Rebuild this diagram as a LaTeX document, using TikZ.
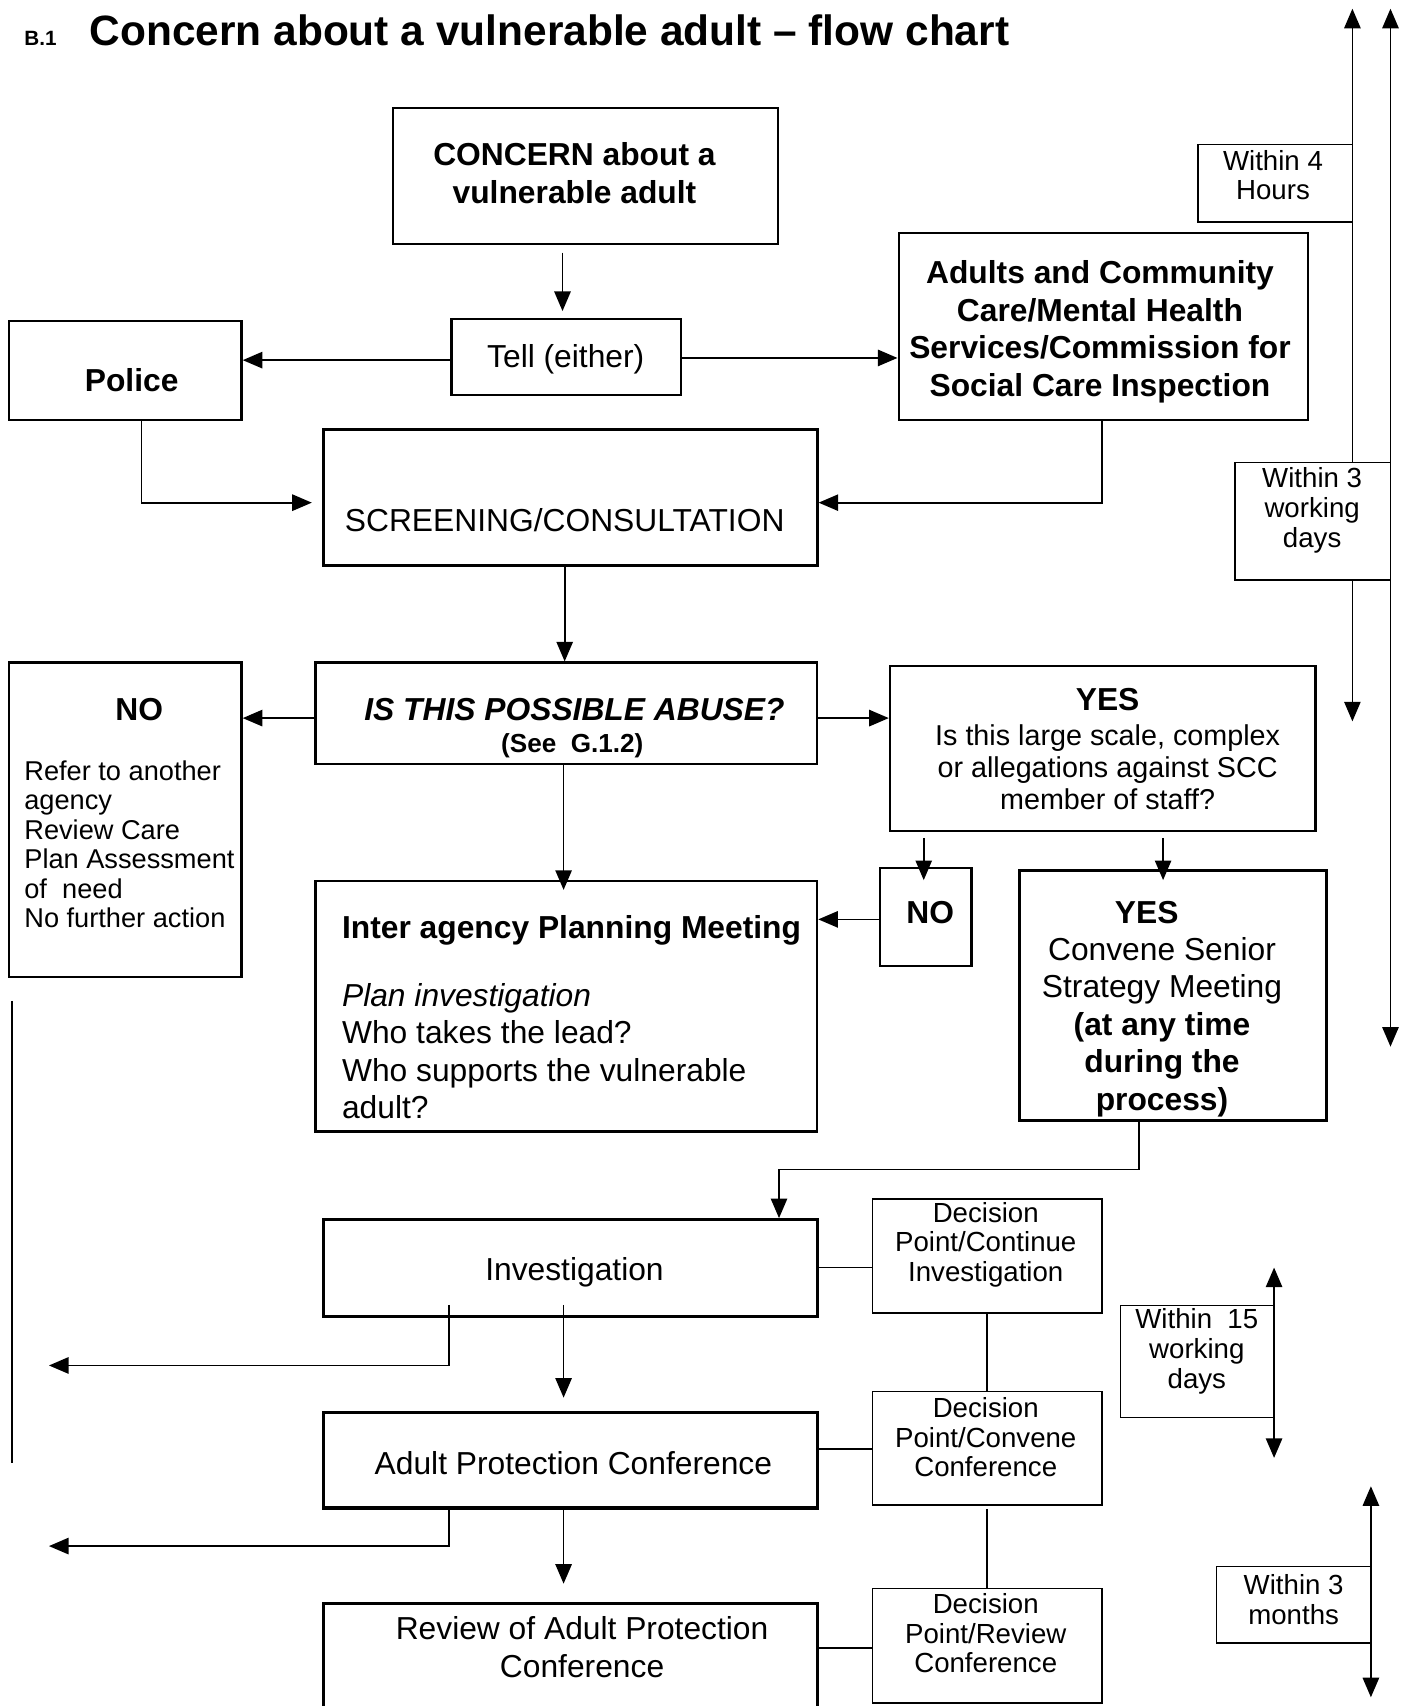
\documentclass[tikz,border=0pt]{standalone}
\usepackage{fontspec}
\setmainfont{Liberation Sans}
\usetikzlibrary{arrows.meta,fit}
\begin{document}
\begin{tikzpicture}[x=0.5pt,y=-0.5pt,
  mainbox/.style={draw,line width=1.1pt,fill=white,inner sep=0pt},
  heavybox/.style={draw,line width=1.4pt,fill=white,inner sep=0pt},
  decbox/.style={draw,line width=0.8pt,fill=white,inner sep=0pt},
  timebox/.style={draw,line width=0.6pt,fill=white,inner sep=0pt},
  conn/.style={line width=0.8pt},
  arr/.style={-{Triangle[length=9pt,width=7.5pt]}},
  dbl/.style={{Triangle[length=9pt,width=7.5pt]}-{Triangle[length=9pt,width=7.5pt]}},
  txt/.style={inner sep=0pt,align=center},
  fbig/.style={font=\fontsize{14.6pt}{17.2pt}\selectfont},
  fbigb/.style={font=\fontsize{14.6pt}{17.2pt}\selectfont\bfseries},
  fyes/.style={font=\fontsize{13.2pt}{14.8pt}\selectfont},
  fsmall/.style={font=\fontsize{12.7pt}{13.6pt}\selectfont},
  flist/.style={font=\fontsize{12.5pt}{13.5pt}\selectfont},
]
\useasboundingbox (0,0) rectangle (1290,1568);

% ---- title
\node[inner sep=0pt,anchor=base west,font=\fontsize{9.5pt}{11pt}\selectfont\bfseries] (b1) at (22,42) {B.1};
\node[inner sep=0pt,anchor=base west,font=\fontsize{19.5pt}{23pt}\selectfont\bfseries] (title) at (82,42) {Concern about a vulnerable adult -- flow chart};

% ---- timeline lines (behind boxes)
\coordinate (t1a) at (1243,8);   \coordinate (t1b) at (1243,663);
\coordinate (t2a) at (1278,8);   \coordinate (t2b) at (1278,962);
\coordinate (t3a) at (1171,1165); \coordinate (t3b) at (1171,1340);
\coordinate (t4a) at (1260,1366); \coordinate (t4b) at (1260,1560);
\draw[conn,dbl] (t1a) -- (t1b);
\draw[conn,dbl] (t2a) -- (t2b);
\draw[conn,dbl] (t3a) -- (t3b);
\draw[conn,dbl] (t4a) -- (t4b);

% ---- boxes
\node[mainbox,fit={(361,99) (715,224)}] (concern) {};
\node[mainbox,fit={(415,293) (626,363)}] (tell) {};
\node[mainbox,fit={(8,295) (222,386)}] (police) {};
\node[mainbox,fit={(826,214) (1202,386)}] (adults) {};
\node[heavybox,fit={(297,395) (751,520)}] (screen) {};
\node[mainbox,fit={(290,609) (751,702)}] (abuse) {};
\node[mainbox,fit={(8,609) (222,898)}] (noL) {};
\node[mainbox,fit={(818,612) (1209,764)}] (yes) {};
\node[mainbox,fit={(809,798) (893,888)}] (no2) {};
\node[mainbox,fit={(937,800) (1219,1030)}] (yes2) {};
\node[mainbox,fit={(290,810) (751,1040)}] (inter) {};
\node[heavybox,fit={(297,1121) (751,1210)}] (inv) {};
\node[decbox,fit={(802,1102) (1013,1207)}] (dec1) {};
\node[heavybox,fit={(297,1298) (751,1386)}] (apc) {};
\node[decbox,fit={(802,1279) (1013,1383)}] (dec2) {};
\node[heavybox,fit={(297,1474) (751,1576)}] (review) {};
\node[decbox,fit={(802,1460) (1013,1565)}] (dec3) {};
\node[timebox,fit={(1101,133) (1243,204)}] (w4) {};
\node[timebox,fit={(1135,425) (1278,533)}] (w3) {};
\node[timebox,fit={(1030,1200) (1171,1303)}] (w15) {};
\node[timebox,fit={(1118,1440) (1260,1510)}] (w3m) {};

% ---- texts
\node[txt,fbigb] (concernT) at (528,159) {CONCERN about a\\vulnerable adult};
\node[txt,fbig] (tellT) at (520,330) {Tell (either)};
\node[txt,fbigb] (policeT) at (121,349) {Police};
\node[txt,fbigb] (adultsT) at (1011,305) {Adults and Community\\Care/Mental Health\\Services/Commission for\\Social Care Inspection};
\node[txt,fbig] (screenT) at (519,478) {SCREENING/CONSULTATION};
\node[txt,font=\fontsize{14.6pt}{17.2pt}\selectfont\bfseries\itshape] (abuseT1) at (528,652) {IS THIS POSSIBLE ABUSE?};
\node[txt,font=\fontsize{12pt}{14pt}\selectfont\bfseries] (abuseT2) at (526,685) {(See\ \ G.1.2)};
\node[txt,fbigb] (noLT1) at (128,652) {NO};
\node[txt,flist,align=left,anchor=west] (noLT2) at (22,776) {Refer to another\\agency\\Review Care\\Plan Assessment\\of\ \ need\\No further action};
\node[txt,fbigb] (yesT1) at (1018,643) {YES};
\node[txt,fyes] (yesT2) at (1018,705) {Is this large scale, complex\\or allegations against SCC\\member of staff?};
\node[txt,fbigb] (no2T) at (855,839) {NO};
\node[txt,fbigb] (yes2T1) at (1054,839) {YES};
\node[txt,fbig] (yes2T2) at (1068,944) {Convene Senior\\Strategy Meeting\\\textbf{(at any time}\\\textbf{during the}\\\textbf{process)}};
\node[txt,fbigb,anchor=west] (interT1) at (314,855) {Inter agency Planning Meeting};
\node[txt,fbig,align=left,anchor=west] (interT2) at (314,966) {\textit{Plan investigation}\\Who takes the lead?\\Who supports the vulnerable\\adult?};
\node[txt,fbig] (invT) at (528,1169) {Investigation};
\node[txt,fsmall] (dec1T) at (906,1144) {Decision\\Point/Continue\\Investigation};
\node[txt,fbig] (apcT) at (527,1345) {Adult Protection Conference};
\node[txt,fsmall] (dec2T) at (906,1321) {Decision\\Point/Convene\\Conference};
\node[txt,fbig] (reviewT) at (535,1514) {Review of Adult Protection\\Conference};
\node[txt,fsmall] (dec3T) at (906,1501) {Decision\\Point/Review\\Conference};
\node[txt,fsmall] (w4T) at (1170,161) {Within 4\\Hours};
\node[txt,fsmall] (w3T) at (1206,469) {Within 3\\working\\days};
\node[txt,fsmall] (w15T) at (1100,1242) {Within\ \ 15\\working\\days};
\node[txt,fsmall] (w3mT) at (1189,1470) {Within 3\\months};

% ---- connectors
\coordinate (cx) at (517,0);
\draw[conn,arr,shorten <=3.5pt,shorten >=3pt] (concern.south -| cx) -- (tell.north -| cx);
\coordinate (ty1) at (0,331);
\coordinate (ty2) at (0,329);
\draw[conn,arr] (tell.west |- ty1) -- (police.east |- ty1);
\draw[conn,arr] (tell.east |- ty2) -- (adults.west |- ty2);
\coordinate (p1) at (130,462);
\draw[conn,arr,shorten >=4.5pt] (police.south -| p1) -- (p1) -- (p1 -| screen.west);
\coordinate (a1) at (1013,462);
\draw[conn,arr] (adults.south -| a1) -- (a1) -- (a1 -| screen.east);
\coordinate (sx) at (519,0);
\draw[conn,arr] (screen.south -| sx) -- (abuse.north -| sx);
\coordinate (ay) at (0,660);
\draw[conn,arr] (abuse.west |- ay) -- (noL.east |- ay);
\draw[conn,arr] (abuse.east |- ay) -- (yes.west |- ay);
\coordinate (nx) at (849,0);
\draw[conn,arr,shorten <=2.5pt,shorten >=-6pt] (yes.south -| nx) -- (no2.north -| nx);
\coordinate (yx) at (1069,0);
\draw[conn,arr,shorten <=2.5pt,shorten >=-5pt] (yes.south -| yx) -- (yes2.north -| yx);
\coordinate (ix) at (518,0);
\draw[conn,arr,shorten >=-4.5pt] (abuse.south -| ix) -- (inter.north -| ix);
\coordinate (ny) at (0,845);
\draw[conn,arr] (no2.west |- ny) -- (inter.east |- ny);
\coordinate (y2a) at (1047,1075);
\coordinate (y2b) at (716,1075);
\draw[conn,arr] (yes2.south -| y2a) -- (y2a) -- (y2b) -- (inv.north -| y2b);
\coordinate (iy) at (0,1165);
\draw[conn] (inv.east |- iy) -- (dec1.west |- iy);
\coordinate (il) at (413,1255);
\coordinate (iend) at (45,1255);
\draw[conn,arr,shorten <=-6pt] (inv.south -| il) -- (il) -- (iend);
\draw[conn,arr,shorten <=-6pt,shorten >=6pt] (inv.south -| ix) -- (apc.north -| ix);
\coordinate (dx) at (907,0);
\draw[conn] (dec1.south -| dx) -- (dec2.north -| dx);
\coordinate (py) at (0,1332);
\draw[conn] (apc.east |- py) -- (dec2.west |- py);
\coordinate (al) at (413,1421);
\coordinate (aend) at (45,1421);
\draw[conn,arr] (apc.south -| al) -- (al) -- (aend);
\draw[conn,arr,shorten >=8.5pt] (apc.south -| ix) -- (review.north -| ix);
\draw[conn,shorten <=1.5pt] (dec2.south -| dx) -- (dec3.north -| dx);
\coordinate (ry) at (0,1515);
\draw[conn] (review.east |- ry) -- (dec3.west |- ry);
\coordinate (lv1) at (11,920);
\coordinate (lv2) at (11,1345);
\draw[conn] (lv1) -- (lv2);
\end{tikzpicture}
\end{document}
